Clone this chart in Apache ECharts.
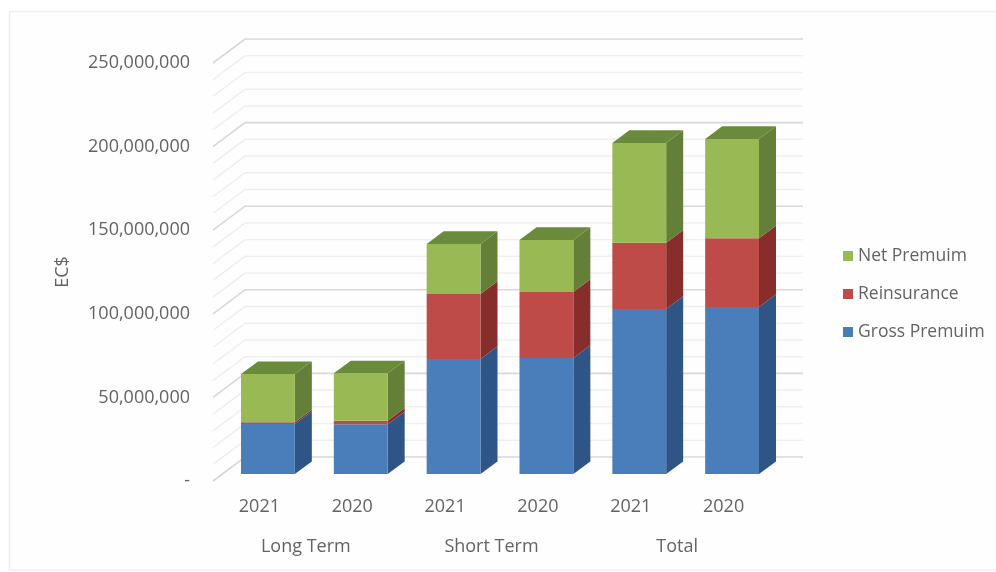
<!DOCTYPE html>
<html>
<head>
<meta charset="utf-8">
<style>html,body{margin:0;padding:0;background:#fff}#c{width:996px;height:572px}</style>
<script src="https://cdn.jsdelivr.net/npm/echarts@6/dist/echarts.min.js"></script>
</head>
<body>
<div id="c"></div>
<script>
const years = ['2021', '2020', '2021', '2020', '2021', '2020'];
const groups = ['Long Term', 'Short Term', 'Total'];
const grossPremium = [29900000, 29700000, 68800000, 69400000, 98700000, 99900000];
const reinsurance = [1000000, 2200000, 38900000, 39500000, 39600000, 41100000];
const netPremium = [28900000, 28300000, 29900000, 31100000, 59700000, 59400000];
const gridValues = [0, 10, 20, 30, 40, 50, 60, 70, 80, 90, 100, 110, 120, 130, 140, 150, 160, 170, 180, 190, 200, 210, 220, 230, 240, 250].map(v => v * 1000000);

const FONT = '"Open Sans", sans-serif';
const TEXT = '#636363';
// oblique projection used for the 3D look
const WALL = [32, -24];
const BAR_SHIFT = [8.5, -7];
const BAR_DEPTH = [17, -12.6];

function barRenderer(front, side, top, drawTop) {
  return function (params, api) {
    const idx = api.value(0);
    const b = api.coord([idx, api.value(1)]);
    const t = api.coord([idx, api.value(2)]);
    const w = api.size([1, 0])[0] * 0.58;
    const x0 = b[0] - w / 2 + BAR_SHIFT[0], x1 = x0 + w;
    const yb = b[1] + BAR_SHIFT[1], yt = t[1] + BAR_SHIFT[1];
    const dx = BAR_DEPTH[0], dy = BAR_DEPTH[1];
    const children = [
      { type: 'polygon', shape: { points: [[x1, yb], [x1 + dx, yb + dy], [x1 + dx, yt + dy], [x1, yt]] }, style: { fill: side } },
      { type: 'rect', shape: { x: x0, y: yt, width: w, height: yb - yt }, style: { fill: front } }
    ];
    if (drawTop) {
      children.push({ type: 'polygon', shape: { points: [[x0, yt], [x0 + dx, yt + dy], [x1 + dx, yt + dy], [x1, yt]] }, style: { fill: top } });
    }
    return { type: 'group', children };
  };
}

function gridRenderer(params, api) {
  const v = api.value(0);
  const y = api.coord([0, v])[1];
  const cs = params.coordSys;
  const major = v % 50000000 === 0;
  return {
    type: 'polyline',
    shape: { points: [[cs.x, y], [cs.x + WALL[0], y + WALL[1]], [cs.x + 590, y + WALL[1]]] },
    style: { fill: null, stroke: major ? '#d8d8d8' : '#efefef', lineWidth: major ? 1.6 : 1.5 }
  };
}

function makeBars(name, values, base, colors, drawTop) {
  return {
    name, type: 'custom', clip: false, z: 3,
    renderItem: barRenderer(colors[0], colors[1], colors[2], drawTop),
    encode: { x: 0, y: 2 },
    itemStyle: { color: colors[0] },
    data: values.map((v, i) => [i, base[i], base[i] + v])
  };
}

const s1 = grossPremium.map((v, i) => v + reinsurance[i]);

const option = {
  animation: false,
  backgroundColor: '#ffffff',
  graphic: [{
    type: 'rect', z: -1, silent: true,
    shape: { x: 9.5, y: 11.5, width: 990, height: 558.5 },
    style: { fill: '#fefefe', stroke: '#efefef', lineWidth: 1.5 }
  }],
  grid: { left: 213, top: 63, width: 557, height: 418, containLabel: false },
  legend: {
    orient: 'vertical', left: 838, top: 242, itemWidth: 10, itemHeight: 10, itemGap: 20, icon: 'rect',
    data: ['Net Premuim', 'Reinsurance', 'Gross Premuim'],
    textStyle: { color: TEXT, fontFamily: FONT, fontSize: 17.5, letterSpacing: 2.1 }
  },
  xAxis: [
    { type: 'category', data: years, position: 'bottom', axisLine: { show: false }, axisTick: { show: false }, splitLine: { show: false },
      axisLabel: { interval: 0, margin: 17, color: TEXT, fontFamily: FONT, fontSize: 18 } },
    { type: 'category', data: groups, position: 'bottom', offset: 40, axisLine: { show: false }, axisTick: { show: false }, splitLine: { show: false },
      axisLabel: { interval: 0, margin: 17, color: TEXT, fontFamily: FONT, fontSize: 18, letterSpacing: 0.9 } }
  ],
  yAxis: {
    type: 'value', min: 0, max: 250000000, interval: 50000000,
    name: 'EC$', nameLocation: 'middle', nameGap: 141, nameRotate: 90,
    nameTextStyle: { color: TEXT, fontFamily: FONT, fontSize: 18 },
    axisLine: { show: false }, axisTick: { show: false }, splitLine: { show: false },
    axisLabel: { margin: 23, color: TEXT, fontFamily: FONT, fontSize: 18, padding: [4, 0, 0, 0],
      formatter: v => v === 0 ? '-' : v.toLocaleString('en-US') }
  },
  series: [
    { name: 'wall', type: 'custom', clip: false, z: 1, silent: true, renderItem: gridRenderer, encode: { y: 0 }, data: gridValues.map(v => [v]) },
    makeBars('Gross Premuim', grossPremium, grossPremium.map(() => 0), ['#4a7ebb', '#2f5586', '#2f5586'], false),
    makeBars('Reinsurance', reinsurance, grossPremium, ['#be4b48', '#872e2c', '#872e2c'], false),
    makeBars('Net Premuim', netPremium, s1, ['#98b954', '#647f37', '#6a8a3c'], true)
  ]
};
const chart = echarts.init(document.getElementById('c'), null, { renderer: 'canvas' });
chart.setOption(option);
</script>
</body>
</html>
